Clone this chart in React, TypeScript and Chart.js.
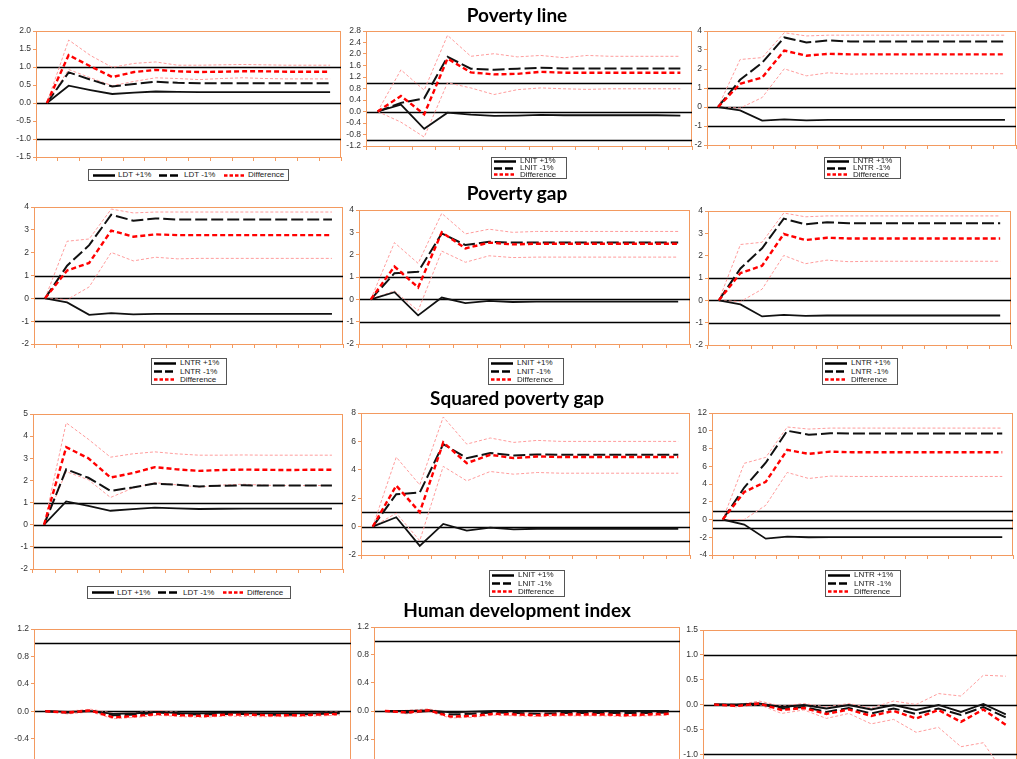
import React, { useEffect, useRef } from 'react';
import { Chart, registerables } from 'chart.js';

Chart.register(...registerables);

// Simulation periods (x axis categories)
const periods = ['1', '2', '3', '4', '5', '6', '7', '8', '9', '10', '11', '12', '13', '14'];

// Poverty line — LDT shock
const plLdtPlus = [0, 0.48, 0.36, 0.25, 0.29, 0.32, 0.31, 0.30, 0.30, 0.30, 0.30, 0.30, 0.30, 0.30];
const plLdtMinus = [0, 0.85, 0.65, 0.46, 0.53, 0.59, 0.56, 0.55, 0.55, 0.55, 0.55, 0.55, 0.55, 0.55];
const plLdtDiff = [0, 1.33, 1.02, 0.72, 0.86, 0.92, 0.88, 0.86, 0.87, 0.88, 0.88, 0.87, 0.87, 0.87];
const plLdtUpper = [0, 1.75, 1.32, 0.99, 1.10, 1.14, 1.05, 1.05, 1.06, 1.07, 1.06, 1.05, 1.05, 1.05];
const plLdtLower = [0, 0.93, 0.70, 0.48, 0.60, 0.70, 0.68, 0.65, 0.68, 0.70, 0.68, 0.67, 0.67, 0.67];

// Poverty line — LNIT shock
const plLnitPlus = [0, 0.24, -0.60, -0.04, -0.11, -0.15, -0.14, -0.12, -0.13, -0.13, -0.13, -0.13, -0.13, -0.14];
const plLnitMinus = [0, 0.30, 0.46, 1.90, 1.49, 1.45, 1.49, 1.52, 1.50, 1.50, 1.50, 1.50, 1.50, 1.50];
const plLnitDiff = [0, 0.54, -0.10, 1.84, 1.36, 1.29, 1.31, 1.38, 1.35, 1.35, 1.35, 1.35, 1.35, 1.35];
const plLnitUpper = [0, 1.45, 0.74, 2.65, 1.92, 2.01, 1.90, 1.95, 1.87, 1.95, 1.92, 1.92, 1.92, 1.92];
const plLnitLower = [0, -0.37, -0.89, 1.00, 0.82, 0.59, 0.76, 0.82, 0.79, 0.77, 0.79, 0.79, 0.79, 0.79];

// LNTR shock (poverty line / poverty gap)
const lntrPlus = [0, -0.18, -0.72, -0.65, -0.70, -0.68, -0.68, -0.68, -0.68, -0.68, -0.68, -0.68, -0.68, -0.68];
const lntrMinus = [0, 1.43, 2.33, 3.66, 3.40, 3.50, 3.45, 3.45, 3.45, 3.45, 3.45, 3.45, 3.45, 3.45];
const lntrDiff = [0, 1.22, 1.55, 2.97, 2.70, 2.80, 2.77, 2.77, 2.77, 2.77, 2.77, 2.77, 2.77, 2.77];
const lntrUpper = [0, 2.50, 2.60, 3.91, 3.74, 3.78, 3.78, 3.78, 3.78, 3.78, 3.78, 3.78, 3.78, 3.78];
const lntrLower = [0, -0.06, 0.50, 2.01, 1.64, 1.80, 1.73, 1.75, 1.75, 1.75, 1.75, 1.75, 1.75, 1.75];

// Poverty gap — LNIT shock
const pgLnitPlus = [0, 0.32, -0.72, 0.08, -0.17, -0.07, -0.12, -0.10, -0.10, -0.10, -0.10, -0.10, -0.10, -0.10];
const pgLnitMinus = [0, 1.17, 1.23, 2.95, 2.43, 2.58, 2.54, 2.55, 2.55, 2.55, 2.55, 2.55, 2.55, 2.55];
const pgLnitDiff = [0, 1.47, 0.53, 3.00, 2.28, 2.54, 2.46, 2.49, 2.49, 2.49, 2.49, 2.49, 2.49, 2.49];
const pgLnitUpper = [0, 2.54, 1.61, 3.85, 2.93, 3.14, 3.00, 3.04, 3.04, 3.04, 3.04, 3.04, 3.04, 3.04];
const pgLnitLower = [0, 0.38, -0.51, 2.16, 1.66, 1.95, 1.87, 1.89, 1.89, 1.89, 1.89, 1.89, 1.89, 1.89];

// Squared poverty gap — LDT shock
const spgLdtPlus = [0, 1.05, 0.85, 0.63, 0.70, 0.77, 0.74, 0.71, 0.72, 0.73, 0.73, 0.73, 0.73, 0.73];
const spgLdtMinus = [0, 2.50, 2.12, 1.53, 1.68, 1.86, 1.80, 1.73, 1.76, 1.78, 1.77, 1.77, 1.77, 1.77];
const spgLdtDiff = [0, 3.50, 3.00, 2.13, 2.33, 2.60, 2.50, 2.43, 2.47, 2.49, 2.48, 2.47, 2.48, 2.48];
const spgLdtUpper = [0, 4.60, 3.86, 3.05, 3.20, 3.29, 3.20, 3.14, 3.14, 3.15, 3.14, 3.14, 3.14, 3.14];
const spgLdtLower = [0, 2.40, 2.03, 1.23, 1.65, 1.90, 1.80, 1.70, 1.79, 1.83, 1.78, 1.77, 1.77, 1.77];

// Squared poverty gap — LNIT shock
const spgLnitPlus = [0, 0.66, -1.36, 0.19, -0.28, -0.07, -0.19, -0.15, -0.15, -0.15, -0.15, -0.15, -0.15, -0.15];
const spgLnitMinus = [0, 2.28, 2.40, 5.81, 4.82, 5.18, 5.01, 5.08, 5.06, 5.06, 5.06, 5.06, 5.06, 5.06];
const spgLnitDiff = [0, 2.89, 1.01, 5.93, 4.47, 5.06, 4.82, 4.94, 4.90, 4.90, 4.90, 4.90, 4.90, 4.90];
const spgLnitUpper = [0, 4.89, 2.94, 7.72, 5.81, 6.24, 5.93, 6.07, 6.00, 6.00, 6.00, 6.00, 6.00, 6.00];
const spgLnitLower = [0, 0.94, -0.99, 4.24, 3.22, 3.88, 3.69, 3.81, 3.76, 3.76, 3.76, 3.76, 3.76, 3.76];

// Squared poverty gap — LNTR shock
const spgLntrPlus = [0, -0.57, -2.16, -1.93, -2.00, -1.98, -1.98, -1.98, -1.98, -1.98, -1.98, -1.98, -1.98, -1.98];
const spgLntrMinus = [0, 3.60, 6.40, 10.00, 9.55, 9.72, 9.68, 9.68, 9.68, 9.68, 9.68, 9.68, 9.68, 9.68];
const spgLntrDiff = [0, 3.10, 4.24, 7.84, 7.39, 7.65, 7.58, 7.58, 7.58, 7.58, 7.58, 7.58, 7.58, 7.58];
const spgLntrUpper = [0, 6.33, 7.00, 10.42, 10.19, 10.30, 10.30, 10.30, 10.30, 10.30, 10.30, 10.30, 10.30, 10.30];
const spgLntrLower = [0, 0.00, 1.60, 5.30, 4.62, 4.89, 4.85, 4.85, 4.85, 4.85, 4.85, 4.85, 4.85, 4.85];

// Human development index — LDT shock
const hdiLdtPlus = [0, -0.01, 0.00, -0.04, -0.03, -0.01, -0.03, -0.03, -0.02, -0.03, -0.03, -0.03, -0.03, -0.02];
const hdiLdtMinus = [0, -0.02, 0.01, -0.06, -0.05, -0.02, -0.04, -0.05, -0.04, -0.04, -0.05, -0.05, -0.04, -0.03];
const hdiLdtDiff = [0, -0.02, 0.01, -0.09, -0.07, -0.04, -0.06, -0.07, -0.05, -0.05, -0.06, -0.06, -0.05, -0.04];
const hdiLdtUpper = [0, 0.00, 0.03, -0.03, -0.02, 0.01, -0.02, -0.03, -0.02, -0.02, -0.03, -0.03, -0.02, -0.01];
const hdiLdtLower = [0, -0.04, -0.01, -0.11, -0.09, -0.06, -0.08, -0.09, -0.07, -0.08, -0.08, -0.08, -0.07, -0.06];

// Human development index — LNIT shock
const hdiLnitPlus = [0, 0.00, 0.01, -0.02, -0.01, 0.00, 0.00, 0.00, 0.00, 0.00, 0.00, 0.00, 0.00, 0.00];
const hdiLnitMinus = [0, -0.02, 0.00, -0.05, -0.04, -0.02, -0.03, -0.04, -0.03, -0.03, -0.03, -0.03, -0.03, -0.02];
const hdiLnitDiff = [0, -0.02, 0.01, -0.08, -0.07, -0.04, -0.05, -0.06, -0.05, -0.05, -0.05, -0.06, -0.05, -0.04];
const hdiLnitUpper = [0, 0.01, 0.03, -0.03, -0.02, 0.00, -0.02, -0.03, -0.02, -0.02, -0.02, -0.03, -0.02, -0.01];
const hdiLnitLower = [0, -0.04, -0.01, -0.10, -0.09, -0.06, -0.07, -0.08, -0.07, -0.07, -0.07, -0.08, -0.07, -0.06];

// Human development index — LNTR shock
const hdiLntrPlus = [0, 0.00, 0.02, -0.05, -0.01, -0.08, -0.01, -0.10, -0.01, -0.11, -0.01, -0.15, 0.01, -0.20];
const hdiLntrMinus = [0, -0.01, 0.01, -0.08, -0.05, -0.15, -0.07, -0.18, -0.08, -0.19, -0.08, -0.21, -0.05, -0.26];
const hdiLntrDiff = [0, -0.03, 0.02, -0.11, -0.07, -0.19, -0.10, -0.23, -0.13, -0.28, -0.11, -0.35, -0.10, -0.41];
const hdiLntrUpper = [0, -0.01, 0.07, -0.03, 0.02, -0.05, 0.02, -0.07, 0.07, 0.00, 0.22, 0.17, 0.59, 0.57];
const hdiLntrLower = [0, -0.05, 0.00, -0.18, -0.11, -0.28, -0.18, -0.39, -0.30, -0.56, -0.46, -0.85, -0.77, -1.44];

// Legend labels
const ldtNames = ['LDT +1%', 'LDT -1%', 'Difference'];
const lnitNames = ['LNIT +1%', 'LNIT -1%', 'Difference'];
const lntrNames = ['LNTR +1%', 'LNTR -1%', 'Difference'];

// Section headings
const sectionTitles = ['Poverty line', 'Poverty gap', 'Squared poverty gap', 'Human development index'];

const ORANGE = '#F39A60';
const SMALL_FONT = '"Liberation Sans", Arial, sans-serif';

type LegendSpec = { names: string[]; x: number; y: number; w: number; h: number; row: boolean };
type PanelSpec = {
  left: number; top: number; right: number; bottom: number;
  yMin: number; yMax: number; yStep: number; decimals: number;
  plus: number[]; minus: number[]; diff: number[]; upper: number[]; lower: number[];
  legend?: LegendSpec;
};

const panels: PanelSpec[] = [
  { left: 36, top: 31, right: 341, bottom: 157, yMin: -1.5, yMax: 2, yStep: 0.5, decimals: 1,
    plus: plLdtPlus, minus: plLdtMinus, diff: plLdtDiff, upper: plLdtUpper, lower: plLdtLower,
    legend: { names: ldtNames, x: 88, y: 169, w: 201, h: 12, row: true } },
  { left: 366, top: 31, right: 692, bottom: 146, yMin: -1.2, yMax: 2.8, yStep: 0.4, decimals: 1,
    plus: plLnitPlus, minus: plLnitMinus, diff: plLnitDiff, upper: plLnitUpper, lower: plLnitLower,
    legend: { names: lnitNames, x: 491, y: 157, w: 76, h: 22, row: false } },
  { left: 707, top: 31, right: 1016, bottom: 145, yMin: -2, yMax: 4, yStep: 1, decimals: 0,
    plus: lntrPlus, minus: lntrMinus, diff: lntrDiff, upper: lntrUpper, lower: lntrLower,
    legend: { names: lntrNames, x: 824, y: 157, w: 77, h: 22, row: false } },
  { left: 34, top: 207, right: 343, bottom: 344, yMin: -2, yMax: 4, yStep: 1, decimals: 0,
    plus: lntrPlus, minus: lntrMinus, diff: lntrDiff, upper: lntrUpper, lower: lntrLower,
    legend: { names: lntrNames, x: 151, y: 358, w: 76, h: 27, row: false } },
  { left: 359, top: 210, right: 690, bottom: 344, yMin: -2, yMax: 4, yStep: 1, decimals: 0,
    plus: pgLnitPlus, minus: pgLnitMinus, diff: pgLnitDiff, upper: pgLnitUpper, lower: pgLnitLower,
    legend: { names: lnitNames, x: 488, y: 358, w: 76, h: 27, row: false } },
  { left: 708, top: 211, right: 1011, bottom: 345, yMin: -2, yMax: 4, yStep: 1, decimals: 0,
    plus: lntrPlus, minus: lntrMinus, diff: lntrDiff, upper: lntrUpper, lower: lntrLower,
    legend: { names: lntrNames, x: 822, y: 358, w: 76, h: 27, row: false } },
  { left: 33, top: 414, right: 343, bottom: 569, yMin: -2, yMax: 5, yStep: 1, decimals: 0,
    plus: spgLdtPlus, minus: spgLdtMinus, diff: spgLdtDiff, upper: spgLdtUpper, lower: spgLdtLower,
    legend: { names: ldtNames, x: 87, y: 586, w: 204, h: 13, row: true } },
  { left: 361, top: 413, right: 690, bottom: 555, yMin: -2, yMax: 8, yStep: 2, decimals: 0,
    plus: spgLnitPlus, minus: spgLnitMinus, diff: spgLnitDiff, upper: spgLnitUpper, lower: spgLnitLower,
    legend: { names: lnitNames, x: 489, y: 570, w: 76, h: 27, row: false } },
  { left: 712, top: 413, right: 1013, bottom: 555, yMin: -4, yMax: 12, yStep: 2, decimals: 0,
    plus: spgLntrPlus, minus: spgLntrMinus, diff: spgLntrDiff, upper: spgLntrUpper, lower: spgLntrLower,
    legend: { names: lntrNames, x: 825, y: 570, w: 76, h: 27, row: false } },
  { left: 34, top: 629, right: 351, bottom: 766, yMin: -0.8, yMax: 1.2, yStep: 0.4, decimals: 1,
    plus: hdiLdtPlus, minus: hdiLdtMinus, diff: hdiLdtDiff, upper: hdiLdtUpper, lower: hdiLdtLower },
  { left: 374, top: 627, right: 680, bottom: 767, yMin: -0.8, yMax: 1.2, yStep: 0.4, decimals: 1,
    plus: hdiLnitPlus, minus: hdiLnitMinus, diff: hdiLnitDiff, upper: hdiLnitUpper, lower: hdiLnitLower },
  { left: 703, top: 630, right: 1017, bottom: 779, yMin: -1.5, yMax: 1.5, yStep: 0.5, decimals: 1,
    plus: hdiLntrPlus, minus: hdiLntrMinus, diff: hdiLntrDiff, upper: hdiLntrUpper, lower: hdiLntrLower },
];

const titleTops = [4, 182, 387, 599];

// Orange plot frame plus black reference lines at -1, 0 and +1
const framePlugin = {
  id: 'frameAndRefs',
  beforeDatasetsDraw(chart: any) {
    const { ctx, chartArea: a, scales } = chart;
    const y = scales.y;
    ctx.save();
    ctx.strokeStyle = ORANGE;
    ctx.lineWidth = 1;
    ctx.strokeRect(a.left + 0.5, a.top + 0.5, a.right - a.left - 1, a.bottom - a.top);
    ctx.strokeStyle = '#000';
    ctx.lineWidth = 1.3;
    for (const v of [-1, 0, 1]) {
      if (v < y.min || v > y.max) continue;
      const py = Math.round(y.getPixelForValue(v)) + 0.5;
      ctx.beginPath();
      ctx.moveTo(a.left + 1, py);
      ctx.lineTo(a.right, py);
      ctx.stroke();
    }
    ctx.restore();
  },
};

const AXIS_W = 34;
const PAD_TOP = 8;
const AXIS_H = 10;
const PAD_RIGHT = 2;

function PanelChart({ p }: { p: PanelSpec }) {
  const ref = useRef<HTMLCanvasElement>(null);
  const left = p.left - AXIS_W;
  const top = p.top - PAD_TOP;
  const width = p.right - p.left + AXIS_W + PAD_RIGHT;
  const height = p.bottom - p.top + PAD_TOP + AXIS_H;

  useEffect(() => {
    if (!ref.current) return;
    const band = (data: number[]) => ({
      data,
      borderColor: '#FF9C9C',
      borderWidth: 1,
      borderDash: [3, 2],
      pointRadius: 0,
      tension: 0,
      fill: false,
    });
    const chart = new Chart(ref.current, {
      type: 'line',
      data: {
        labels: periods,
        datasets: [
          { data: p.diff, borderColor: '#FF0000', borderWidth: 2.4, borderDash: [5, 3], pointRadius: 0, tension: 0, fill: false },
          { data: p.plus, borderColor: '#111', borderWidth: 1.8, pointRadius: 0, tension: 0, fill: false },
          { data: p.minus, borderColor: '#111', borderWidth: 2, borderDash: [12, 4], pointRadius: 0, tension: 0, fill: false },
          band(p.upper),
          band(p.lower),
        ],
      },
      options: {
        animation: false,
        responsive: false,
        devicePixelRatio: 1,
        layout: { padding: { top: PAD_TOP, right: PAD_RIGHT, left: 0, bottom: 0 } },
        plugins: { legend: { display: false }, tooltip: { enabled: false }, title: { display: false } },
        scales: {
          x: {
            type: 'category',
            offset: true,
            grid: { offset: true, drawOnChartArea: false, drawTicks: true, tickLength: 4, color: ORANGE, lineWidth: 1 },
            border: { color: ORANGE, width: 1 },
            ticks: { display: false },
            afterFit: (s: any) => { s.height = AXIS_H; },
          },
          y: {
            min: p.yMin,
            max: p.yMax,
            ticks: {
              stepSize: p.yStep,
              autoSkip: false,
              padding: 2,
              color: '#333',
              font: { family: SMALL_FONT, size: 8.5 },
              callback: (v: any) => Number(v).toFixed(p.decimals),
            },
            grid: { drawOnChartArea: false, drawTicks: true, tickLength: 3, color: ORANGE },
            border: { color: ORANGE, width: 1 },
            afterFit: (s: any) => { s.width = AXIS_W; },
          },
        },
      } as any,
      plugins: [framePlugin],
    });
    return () => chart.destroy();
  }, []);

  return (
    <canvas
      ref={ref}
      width={width}
      height={height}
      style={{ position: 'absolute', left, top, width, height }}
    />
  );
}

const legendStyles = [
  { color: '#000', dash: '' },
  { color: '#000', dash: '8 3' },
  { color: '#FF0000', dash: '3.5 2' },
];

function Sample({ i }: { i: number }) {
  const s = legendStyles[i];
  return (
    <svg width={22} height={5} style={{ display: 'block' }}>
      <line x1={0} y1={2.5} x2={22} y2={2.5} stroke={s.color} strokeWidth={2.5} strokeDasharray={s.dash || undefined} />
    </svg>
  );
}

function LegendBox({ lg }: { lg: LegendSpec }) {
  const rowSample = [4, 70, 135];
  const rowText = [29, 95, 159];
  const rowH = (lg.h - 2) / 3;
  return (
    <div
      style={{
        position: 'absolute', left: lg.x, top: lg.y, width: lg.w, height: lg.h,
        border: '1px solid #555', boxSizing: 'border-box', background: '#fff',
        fontFamily: SMALL_FONT, fontSize: 8, color: '#222', lineHeight: '8px',
      }}
    >
      {lg.names.map((n, i) => {
        if (lg.row) {
          return (
            <React.Fragment key={n}>
              <div style={{ position: 'absolute', left: rowSample[i], top: (lg.h - 2) / 2 - 2.5 }}><Sample i={i} /></div>
              <div style={{ position: 'absolute', left: rowText[i], top: (lg.h - 2) / 2 - 4, whiteSpace: 'nowrap' }}>{n}</div>
            </React.Fragment>
          );
        }
        const cy = rowH * (i + 0.5);
        return (
          <React.Fragment key={n}>
            <div style={{ position: 'absolute', left: 2, top: cy - 2.5 }}><Sample i={i} /></div>
            <div style={{ position: 'absolute', left: 28, top: cy - 4, whiteSpace: 'nowrap' }}>{n}</div>
          </React.Fragment>
        );
      })}
    </div>
  );
}

export default function App() {
  return (
    <div style={{ position: 'fixed', left: 0, top: 0, width: 1017, height: 759, overflow: 'hidden', background: '#fff' }}>
      {panels.map((p, i) => <PanelChart key={i} p={p} />)}
      {panels.map((p, i) => (p.legend ? <LegendBox key={'lg' + i} lg={p.legend} /> : null))}
      {sectionTitles.map((t, i) => (
        <div
          key={t}
          style={{
            position: 'absolute', left: 0, width: 1034, top: titleTops[i], textAlign: 'center',
            fontFamily: 'Lato, "Open Sans", sans-serif', fontWeight: 700, fontSize: 19, lineHeight: '22px', color: '#000',
          }}
        >
          {t}
        </div>
      ))}
    </div>
  );
}
